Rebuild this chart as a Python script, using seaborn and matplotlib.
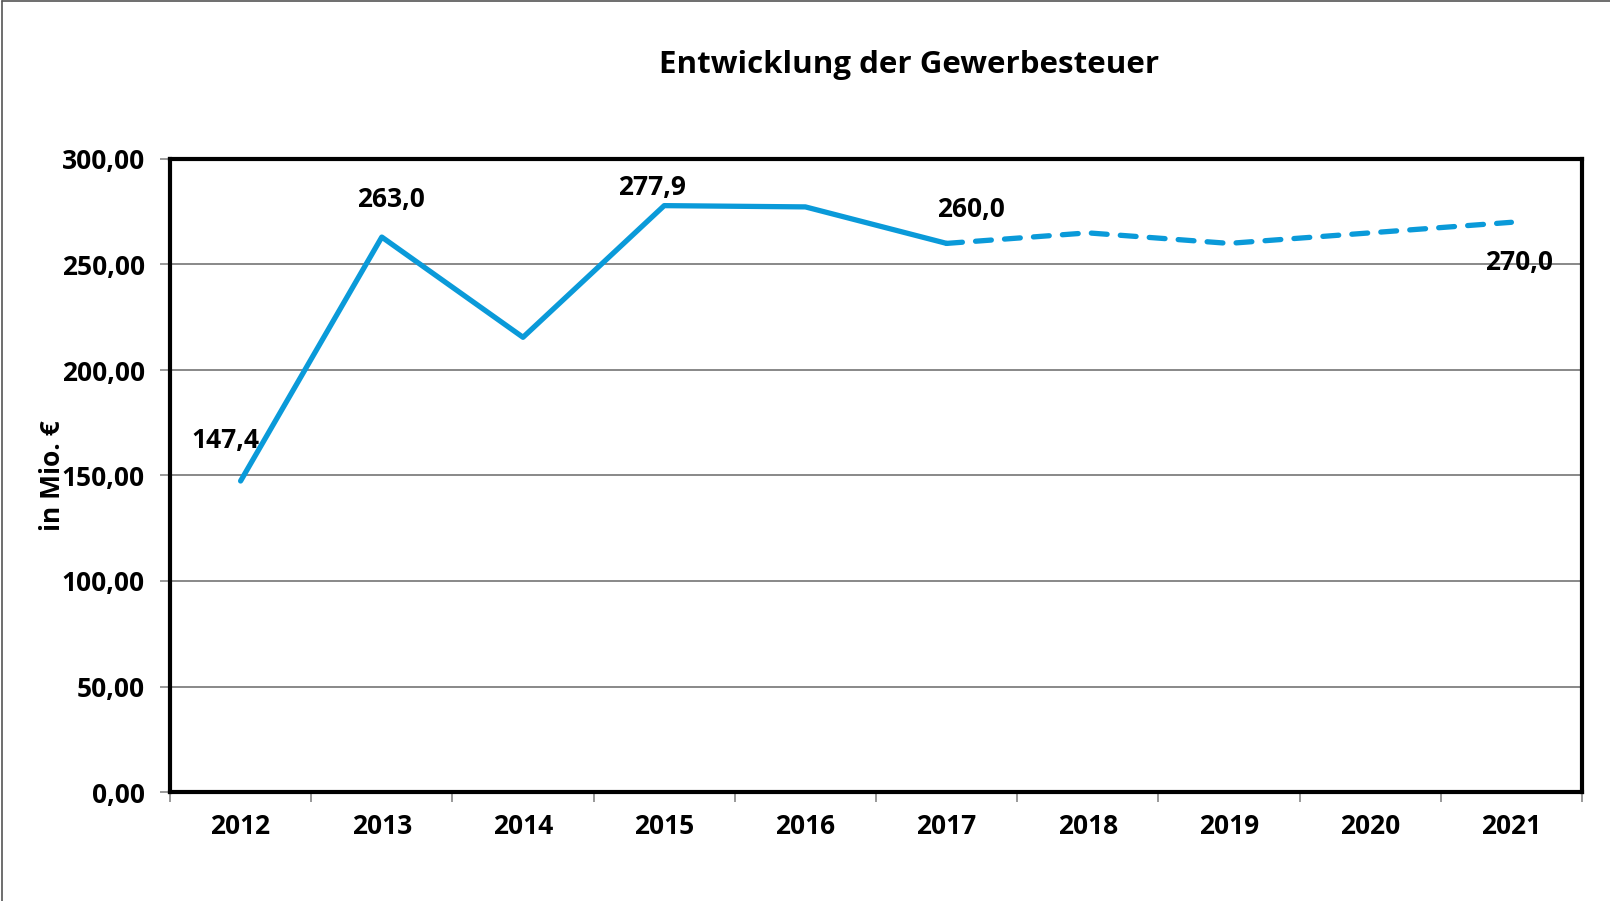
import matplotlib
matplotlib.use("Agg")
import matplotlib.pyplot as plt
from matplotlib.lines import Line2D
import seaborn as sns
import numpy as np
import pandas as pd

# data
years = ["2012", "2013", "2014", "2015", "2016", "2017", "2018", "2019", "2020", "2021"]
values = [147.4, 263.0, 215.5, 277.9, 277.3, 260.0, 265.0, 260.0, 265.0, 270.0]
n_actual = 6  # 2012-2017 actual, rest forecast (dashed)
labels = {0: "147,4", 1: "263,0", 3: "277,9", 5: "260,0", 9: "270,0"}
label_offsets = {0: (-15, 40), 1: (9, 38), 3: (-12, 18), 5: (24, 34), 9: (8, -40)}
y_ticks = [0, 50, 100, 150, 200, 250, 300]

sns.set_theme(style="white")
plt.rcParams["font.family"] = ["Open Sans", "DejaVu Sans"]
plt.rcParams["font.weight"] = "bold"
plt.rcParams["text.color"] = "black"
plt.rcParams["axes.labelcolor"] = "black"
plt.rcParams["xtick.labelcolor"] = "black"
plt.rcParams["ytick.labelcolor"] = "black"

blue = "#0a9ad9"
df = pd.DataFrame({"x": np.arange(len(years)), "value": values})

fig = plt.figure(figsize=(16.1, 9.01), dpi=100)
ax = fig.add_axes([170 / 1610, 1 - 792 / 901, 1412 / 1610, 633 / 901])

sns.lineplot(data=df.iloc[:n_actual], x="x", y="value", ax=ax,
             color=blue, linewidth=3.8)
sns.lineplot(data=df.iloc[n_actual - 1:], x="x", y="value", ax=ax,
             color=blue, linewidth=3.8, linestyle=(0, (3, 2.5)),
             dash_capstyle="round")

for i, txt in labels.items():
    dx, dy = label_offsets[i]
    ax.annotate(txt, (i, values[i]), xytext=(dx, dy), textcoords="offset pixels",
                ha="center", va="center", fontsize=19, fontweight="bold",
                color="black")

ax.set_xlim(-0.5, len(years) - 0.5)
ax.set_ylim(0, 300)
ax.set_yticks(y_ticks)
ax.set_yticklabels([f"{v:.2f}".replace(".", ",") for v in y_ticks])
ax.set_xticks(np.arange(len(years)))
ax.set_xticklabels(years)
ax.set_xticks(np.arange(len(years) + 1) - 0.5, minor=True)
ax.tick_params(axis="x", which="major", length=0, pad=15, labelsize=19)
ax.tick_params(axis="x", which="minor", bottom=True, length=7, width=1.2,
               color="#888888", direction="out")
ax.tick_params(axis="y", left=True, length=7, width=1.2, color="#888888",
               pad=11, labelsize=19)
for lab in ax.get_xticklabels() + ax.get_yticklabels():
    lab.set_fontweight("bold")

ax.grid(axis="y", color="#888888", linewidth=1.4)
ax.grid(axis="x", visible=False)
for s in ax.spines.values():
    s.set_color("black")
    s.set_linewidth(3)

ax.set_xlabel("")
ax.set_ylabel("in Mio. €", fontsize=19, fontweight="bold", labelpad=0)
ax.yaxis.set_label_coords(-0.074, 0.5)

fig.text(909 / 1610, 1 - 65 / 901, "Entwicklung der Gewerbesteuer",
         ha="center", va="center", fontsize=22.5, fontweight="bold",
         color="black")

# thin gray frame at left and top like the original export
fig.add_artist(Line2D([0.0015, 0.0015], [0, 0.999], transform=fig.transFigure,
                      color="#555555", linewidth=1.2))
fig.add_artist(Line2D([0.0015, 1], [0.999, 0.999], transform=fig.transFigure,
                      color="#555555", linewidth=1.2))

fig.savefig("out.png", dpi=100, facecolor="white")
